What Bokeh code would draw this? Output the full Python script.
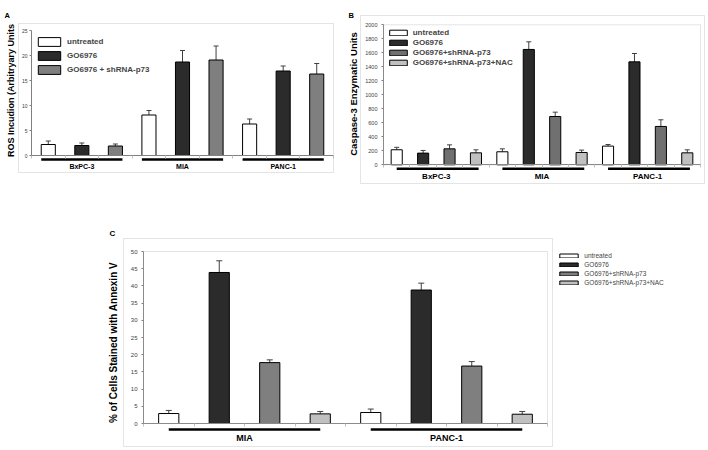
import math
from bokeh.plotting import figure
from bokeh.models import (Range1d, LinearAxis, FixedTicker, ColumnDataSource, Whisker, TeeHead,
                          Legend, LegendItem, BoxAnnotation, Spacer)
from bokeh.layouts import row, column
from bokeh.core.properties import value
from bokeh.embed import file_html
from bokeh.resources import INLINE

FONT = "Liberation Sans"

# ---------------- data ----------------
# Panel A: ROS induction
A_GROUPS = ["BxPC-3", "MIA", "PANC-1"]
A_SERIES = ["untreated", "GO6976", "GO6976 + shRNA-p73"]
A_UNTREATED = [2.2, 8.1, 6.3]
A_UNTREATED_ERR = [0.7, 0.9, 1.0]
A_GO6976 = [2.0, 18.7, 16.9]
A_GO6976_ERR = [0.5, 2.3, 1.0]
A_SHRNA = [1.9, 19.1, 16.3]
A_SHRNA_ERR = [0.4, 2.8, 2.1]
A_YTICKS = [0, 5, 10, 15, 20, 25]
A_YTITLE = "ROS Incudion (Arbitryary Units"

# Panel B: Caspase-3
B_GROUPS = ["BxPC-3", "MIA", "PANC-1"]
B_SERIES = ["untreated", "GO6976", "GO6976+shRNA-p73", "GO6976+shRNA-p73+NAC"]
B_UNTREATED = [215, 186, 267]
B_UNTREATED_ERR = [35, 42, 23]
B_GO6976 = [167, 1648, 1471]
B_GO6976_ERR = [38, 109, 119]
B_SHRNA = [228, 690, 548]
B_SHRNA_ERR = [57, 62, 95]
B_NAC = [171, 176, 171]
B_NAC_ERR = [43, 34, 43]
B_YTICKS = [0, 200, 400, 600, 800, 1000, 1200, 1400, 1600, 1800, 2000]
B_YTITLE = "Caspase-3 Enzymatic Units"

# Panel C: Annexin V
C_GROUPS = ["MIA", "PANC-1"]
C_SERIES = ["untreated", "GO6976", "GO6976+shRNA-p73", "GO6976+shRNA-p73+NAC"]
C_UNTREATED = [2.9, 3.2]
C_UNTREATED_ERR = [0.9, 1.0]
C_GO6976 = [43.9, 38.8]
C_GO6976_ERR = [3.4, 2.0]
C_SHRNA = [17.7, 16.7]
C_SHRNA_ERR = [0.8, 1.3]
C_NAC = [2.8, 2.7]
C_NAC_ERR = [0.7, 0.8]
C_YTICKS = [0, 5, 10, 15, 20, 25, 30, 35, 40, 45, 50]
C_YTITLE = "% of Cells Stained with Annexin V"

# ---------------- styles ----------------
COL_UNTREATED = "#ffffff"
COL_GO = "#2b2b2b"
COL_SH = "#7f7f7f"
COL_NAC = "#c0c0c0"
BOX_GRAY = "#a6a6a6"
AXIS_GRAY = "#808080"
ERR_COL = "#404040"


def make_panel(cfg):
    fx, fy, fw, fh = cfg["fig"]            # figure placement in page pixels
    ax, sp, y0, up = cfg["map"]            # y-axis px, slot px, zero px, px per unit

    def X(px):
        return -0.5 + (px - ax) / sp

    def Y(py):
        return (y0 - py) / up

    p = figure(width=fw, height=fh,
               x_range=Range1d(X(fx), X(fx + fw)), y_range=Range1d(Y(fy + fh), Y(fy)),
               x_axis_location=None, y_axis_location=None,
               toolbar_location=None, output_backend="svg",
               min_border=0, min_border_left=0, min_border_right=0,
               min_border_top=0, min_border_bottom=0)
    for g in p.grid:
        g.visible = False
    p.outline_line_color = None
    p.background_fill_color = "white"
    p.border_fill_color = "white"

    groups = cfg["groups"]
    names = cfg["series"]
    n = len(names)
    slots = len(groups) * n
    ymax = cfg["yticks"][-1]

    # outer gray box
    bx0, by0, bx1, by1 = cfg["box"]
    p.add_layout(BoxAnnotation(left=X(bx0), right=X(bx1), top=Y(by0), bottom=Y(by1),
                               fill_color=None, line_color=BOX_GRAY, line_width=1))
    if cfg.get("inner_box"):
        p.add_layout(BoxAnnotation(left=-0.5, right=slots - 0.5, bottom=0, top=ymax,
                                   fill_color=None, line_color=BOX_GRAY, line_width=1))

    items = []
    for s, name in enumerate(names):
        xs = [g * n + s for g in range(len(groups))]
        vals = cfg["vals"][s]
        errs = cfg["errs"][s]
        src = ColumnDataSource(dict(x=xs, top=vals,
                                    upper=[v + e for v, e in zip(vals, errs)]))
        p.add_layout(Whisker(base="x", lower="top", upper="upper", source=src,
                             dimension="height", lower_head=None,
                             upper_head=TeeHead(size=cfg["cap"], line_color=ERR_COL, line_width=1),
                             line_color=ERR_COL, line_width=1))
        r = p.vbar(x="x", top="top", bottom=0, width=cfg["bar_w"], source=src,
                   fill_color=cfg["colors"][s], line_color="black", line_width=1)
        items.append(LegendItem(label=name, renderers=[r]))

    yax = LinearAxis(fixed_location=-0.5, ticker=FixedTicker(ticks=cfg["yticks"]),
                     bounds=(0, ymax))
    yax.axis_line_color = AXIS_GRAY
    yax.major_tick_line_color = AXIS_GRAY
    yax.major_tick_out = 2
    yax.major_tick_in = 0
    yax.minor_tick_line_color = None
    yax.major_label_text_font = FONT
    yax.major_label_text_font_size = cfg["tick_fs"]
    yax.major_label_text_color = "#404040"
    yax.major_label_standoff = cfg["tick_standoff"]
    p.add_layout(yax, "left")

    xax = LinearAxis(fixed_location=0,
                     ticker=FixedTicker(ticks=[k - 0.5 for k in range(slots + 1)]),
                     bounds=(-0.5, slots - 0.5))
    xax.axis_line_color = AXIS_GRAY
    xax.major_tick_line_color = "#c0c0c0"
    xax.major_tick_out = 3
    xax.major_tick_in = 0
    xax.minor_tick_line_color = None
    xax.major_label_text_font_size = "0px"
    xax.major_label_text_alpha = 0
    p.add_layout(xax, "below")

    # group underlines and labels
    u0, u1, uy_px, ly_px = cfg["under"]
    gx = [g * n for g in range(len(groups))]
    p.segment(x0=[x + u0 for x in gx], x1=[x + u1 for x in gx],
              y0=[Y(uy_px)] * len(gx), y1=[Y(uy_px)] * len(gx),
              line_color="black", line_width=2.5)
    p.text(x=[x + (n - 1) / 2 for x in gx], y=[Y(ly_px)] * len(gx), text=groups,
           text_font=value(FONT), text_font_style="bold", text_font_size=cfg["grp_fs"],
           text_align="center", text_baseline="middle", text_color="black")

    # legend
    lgx, lgy, lh = cfg["leg_pos"]          # first glyph top-left in page px, legend height
    leg = Legend(items=items, location=(lgx - fx, (fy + fh) - (lgy + lh)),
                 orientation="vertical",
                 glyph_width=cfg["leg_gw"], glyph_height=cfg["leg_gh"],
                 label_height=cfg["leg_lh"], label_width=10, spacing=cfg["leg_sp"],
                 padding=0, margin=0, label_standoff=cfg["leg_so"],
                 label_text_font=FONT, label_text_font_size=cfg["leg_fs"],
                 label_text_font_style=cfg["leg_style"],
                 border_line_color=None, background_fill_alpha=0)
    p.add_layout(leg)

    # panel letter
    lx, lby, lfs = cfg["letter"]
    p.text(x=[X(lx)], y=[Y(lby)], text=[cfg["letter_text"]],
           text_font=value(FONT), text_font_style="bold", text_font_size=lfs,
           text_align="left", text_baseline="alphabetic", text_color="black")

    # y-axis title
    tx, ty, tfs = cfg["ytitle_pos"]
    p.text(x=[X(tx)], y=[Y(ty)], text=[cfg["ytitle"]], angle=math.pi / 2,
           text_font=value(FONT), text_font_style="bold", text_font_size=tfs,
           text_align="center", text_baseline="middle", text_color="black")
    return p


pA = make_panel(dict(
    fig=(0, 0, 343, 205), map=(31, 302 / 9, 155, 5.0),
    box=(18, 23, 333, 172),
    groups=A_GROUPS, series=A_SERIES,
    vals=[A_UNTREATED, A_GO6976, A_SHRNA],
    errs=[A_UNTREATED_ERR, A_GO6976_ERR, A_SHRNA_ERR],
    colors=[COL_UNTREATED, COL_GO, COL_SH],
    yticks=A_YTICKS, bar_w=0.42, cap=5, tick_fs="5px", tick_standoff=2,
    under=(-0.21, 2.21, 159, 165.5), grp_fs="7px",
    leg_pos=(35, 36, 39), leg_gw=28, leg_gh=11, leg_lh=11, leg_sp=3, leg_so=4,
    leg_fs="8px", leg_style="bold",
    letter=(4, 15, "7.5px"), letter_text="A",
    ytitle=A_YTITLE, ytitle_pos=(10, 90, "9px"),
    inner_box=False,
))

pB = make_panel(dict(
    fig=(343, 0, 365, 205), map=(383, 317 / 12, 164.3, 0.07),
    box=(360, 15, 704, 183),
    groups=B_GROUPS, series=B_SERIES,
    vals=[B_UNTREATED, B_GO6976, B_SHRNA, B_NAC],
    errs=[B_UNTREATED_ERR, B_GO6976_ERR, B_SHRNA_ERR, B_NAC_ERR],
    colors=[COL_UNTREATED, COL_GO, "#707070", COL_NAC],
    yticks=B_YTICKS, bar_w=0.42, cap=5, tick_fs="5.5px", tick_standoff=4,
    under=(0.0, 3.1, 168.3, 176), grp_fs="8px",
    leg_pos=(386.7, 27.7, 40), leg_gw=22, leg_gh=7, leg_lh=10, leg_sp=0, leg_so=4,
    leg_fs="8px", leg_style="bold",
    letter=(348, 15, "7.5px"), letter_text="B",
    ytitle=B_YTITLE, ytitle_pos=(353, 93.5, "9.5px"),
    inner_box=True,
))

pC = make_panel(dict(
    fig=(95, 205, 613, 245), map=(143, 50.5, 423, 3.44),
    box=(123, 238, 552, 446),
    groups=C_GROUPS, series=C_SERIES,
    vals=[C_UNTREATED, C_GO6976, C_SHRNA, C_NAC],
    errs=[C_UNTREATED_ERR, C_GO6976_ERR, C_SHRNA_ERR, C_NAC_ERR],
    colors=[COL_UNTREATED, COL_GO, COL_SH, COL_NAC],
    yticks=C_YTICKS, bar_w=0.40, cap=6, tick_fs="6px", tick_standoff=4,
    under=(0.0, 3.0, 429, 437), grp_fs="9px",
    leg_pos=(557.3, 251, 36), leg_gw=23, leg_gh=5, leg_lh=9, leg_sp=0, leg_so=4,
    leg_fs="6.5px", leg_style="normal",
    letter=(109, 232.5, "8px"), letter_text="C",
    ytitle=C_YTITLE, ytitle_pos=(113, 342, "10px"),
    inner_box=True,
))

layout = column(row(pA, pB), row(Spacer(width=95, height=245), pC))

open("out.html", "w").write(file_html(layout, INLINE))
